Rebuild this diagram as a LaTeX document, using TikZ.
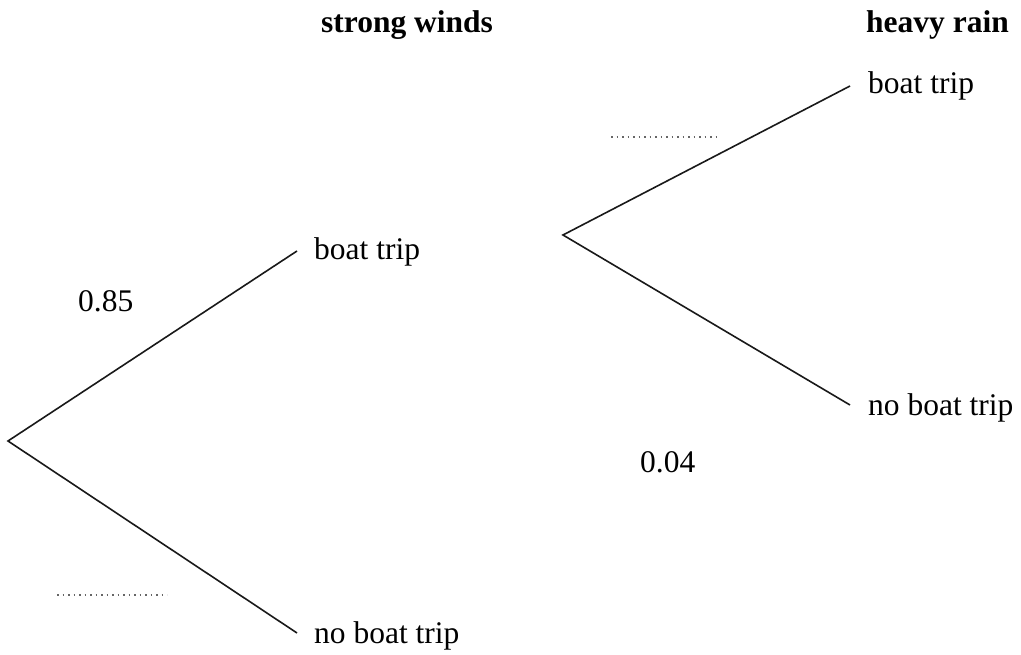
\documentclass[tikz,border=0pt]{standalone}
\usepackage{fontspec}
\setmainfont{Liberation Serif}
\begin{document}
\begin{tikzpicture}[x=1pt,y=-1pt,
  branch/.style={line width=1.6pt,black!90},
  lbl/.style={anchor=base west,inner sep=0pt,font=\fontsize{31.5}{36}\selectfont},
  head/.style={anchor=base west,inner sep=0pt,font=\fontsize{31.5}{36}\selectfont\bfseries},
  blank/.style={line width=1.8pt,black!60,dash pattern=on 1.8pt off 3.7pt}]
\useasboundingbox (0,0) rectangle (1021,655);
% headings
\node[head] (hsw) at (321,33) {strong winds};
\node[head] (hhr) at (866,33) {heavy rain};
% first stage
\coordinate (r1) at (8,441);
\coordinate (e1a) at (297,251);
\coordinate (e1b) at (297,633);
\draw[branch] (e1a) -- (r1) -- (e1b);
\node[lbl] (bt1) at (314,260) {boat trip};
\node[lbl] (nbt1) at (314,643) {no boat trip};
\node[lbl] (p085) at (78,312) {0.85};
\coordinate (d1a) at (57,595);
\coordinate (d1b) at (167,595);
\draw[blank] (d1a) -- (d1b);
% second stage
\coordinate (r2) at (563,235);
\coordinate (e2a) at (850,86);
\coordinate (e2b) at (850,405);
\draw[branch] (e2a) -- (r2) -- (e2b);
\node[lbl] (bt2) at (868,94) {boat trip};
\node[lbl] (nbt2) at (868,415) {no boat trip};
\node[lbl] (p004) at (640,472) {0.04};
\coordinate (d2a) at (611,137);
\coordinate (d2b) at (720,137);
\draw[blank] (d2a) -- (d2b);
\end{tikzpicture}
\end{document}
